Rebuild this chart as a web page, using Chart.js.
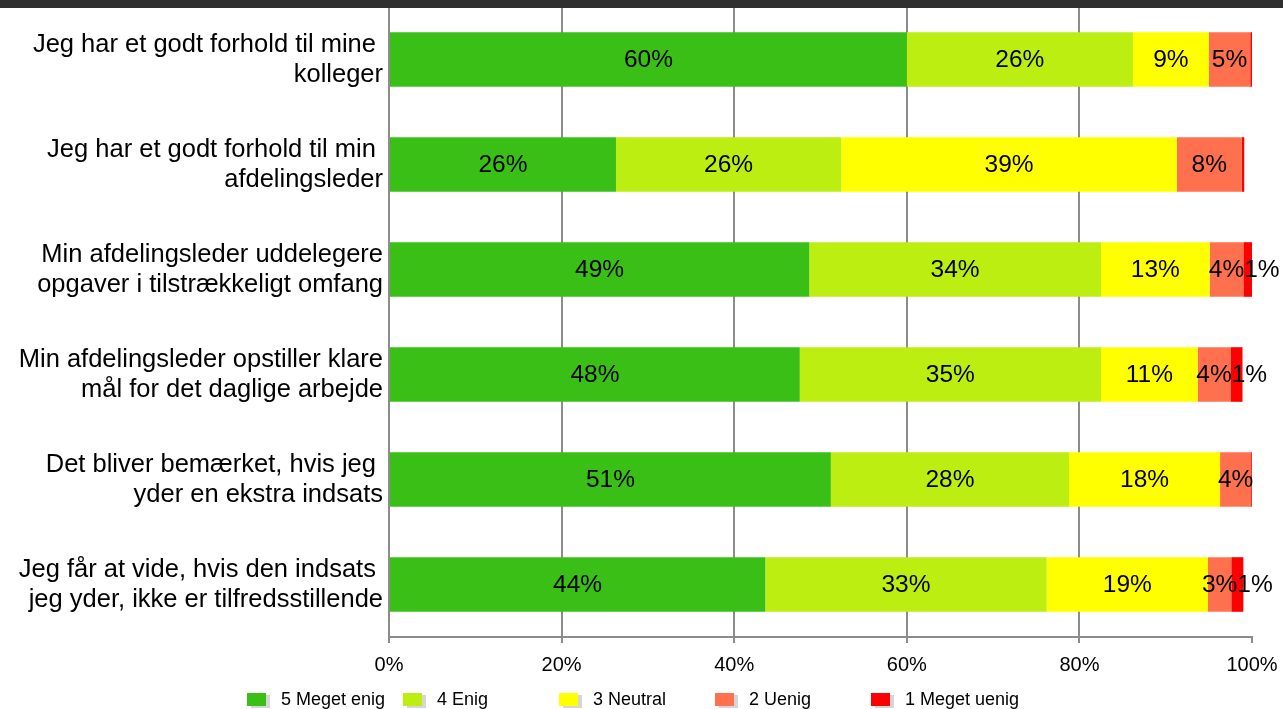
<!DOCTYPE html>
<html>
<head>
<meta charset="utf-8">
<script src="https://cdn.jsdelivr.net/npm/chart.js@4/dist/chart.umd.min.js"></script>
<style>
  html, body { margin: 0; padding: 0; background: #fff; }
  #wrap { position: relative; width: 1283px; height: 709px; }
</style>
</head>
<body>
<div id="wrap"><canvas id="surveyChart" width="1283" height="709"></canvas></div>
<script>
// spørgsmål (two lines each, trailing space kept like the original)
const questions = [
  ['Jeg har et godt forhold til mine ', 'kolleger'],
  ['Jeg har et godt forhold til min ', 'afdelingsleder'],
  ['Min afdelingsleder uddelegere', 'opgaver i tilstrækkeligt omfang'],
  ['Min afdelingsleder opstiller klare', 'mål for det daglige arbejde'],
  ['Det bliver bemærket, hvis jeg ', 'yder en ekstra indsats'],
  ['Jeg får at vide, hvis den indsats ', 'jeg yder, ikke er tilfredsstillende']
];

const seriesNames = ['5 Meget enig', '4 Enig', '3 Neutral', '2 Uenig', '1 Meget uenig'];

// andele i procent
const megetEnig  = [60.0, 26.3, 48.7, 47.6, 51.2, 43.6];
const enig       = [26.2, 26.1, 33.8, 34.9, 27.6, 32.6];
const neutral    = [8.8, 38.9, 12.6, 11.2, 17.5, 18.7];
const uenig      = [4.8, 7.5, 3.9, 3.8, 3.6, 2.7];
const megetUenig = [0.2, 0.3, 1.0, 1.4, 0.2, 1.4];

const xTicks = [0, 20, 40, 60, 80, 100];

const seriesColors = ['#3abf17', '#bdee12', '#ffff00', '#ff704e', '#ff0000'];

const FONT = '"Liberation Sans", Arial, Helvetica, sans-serif';
const GRID = '#8c8c8c';

const seriesData = [megetEnig, enig, neutral, uenig, megetUenig];

// percentages in the middle of each segment, pushed right when they would collide
const valueLabels = {
  id: 'valueLabels',
  afterDatasetsDraw(chart) {
    const ctx = chart.ctx;
    ctx.save();
    ctx.font = '24.5px ' + FONT;
    ctx.fillStyle = '#000';
    ctx.textAlign = 'left';
    ctx.textBaseline = 'middle';
    const lastRight = {};
    chart.data.datasets.forEach((ds, di) => {
      const meta = chart.getDatasetMeta(di);
      meta.data.forEach((bar, i) => {
        const v = ds.data[i];
        if (Math.round(v) < 1) return;
        const txt = Math.round(v) + '%';
        const w = ctx.measureText(txt).width;
        const p = bar.getProps(['x', 'base', 'y'], true);
        let left = (p.x + p.base) / 2 - w / 2;
        if (lastRight[i] !== undefined && left < lastRight[i]) left = lastRight[i];
        ctx.fillText(txt, left, p.y + 1);
        lastRight[i] = left + w;
      });
    });
    ctx.restore();
  }
};

// legend in fixed columns + the dark strip at the top
const legendX = [247, 403, 559, 715, 871];
const frame = {
  id: 'frame',
  afterDraw(chart) {
    const ctx = chart.ctx;
    ctx.save();
    ctx.fillStyle = '#2f2f2f';
    ctx.fillRect(0, 0, chart.width, 8);

    ctx.font = '18px ' + FONT;
    ctx.textBaseline = 'middle';
    ctx.textAlign = 'left';
    chart.data.datasets.forEach((ds, i) => {
      const x0 = legendX[i];
      ctx.fillStyle = '#d6d6d6';
      ctx.fillRect(x0 + 4, 695, 19, 13);
      ctx.fillStyle = ds.backgroundColor;
      ctx.fillRect(x0, 693, 19, 13);
      ctx.fillStyle = '#000';
      ctx.fillText(ds.label, x0 + 34, 700);
    });
    ctx.restore();
  }
};

const ctx = document.getElementById('surveyChart').getContext('2d');
new Chart(ctx, {
  type: 'bar',
  data: {
    labels: questions,
    datasets: seriesNames.map((name, i) => ({
      label: name,
      data: seriesData[i],
      backgroundColor: seriesColors[i],
      borderWidth: 0,
      categoryPercentage: 0.52,
      barPercentage: 1.0
    }))
  },
  options: {
    indexAxis: 'y',
    responsive: false,
    animation: false,
    layout: { padding: { top: 7, right: 31, left: 0, bottom: 0 } },
    scales: {
      x: {
        stacked: true,
        min: 0,
        max: 100,
        afterBuildTicks: (scale) => { scale.ticks = xTicks.map(v => ({ value: v })); },
        afterFit: (scale) => {
          scale.height = 72;
          scale.paddingLeft = 0;
          scale.paddingRight = 0;
        },
        grid: {
          color: (c) => (c.tick && c.tick.value === 100 ? 'rgba(0,0,0,0)' : GRID),
          tickColor: GRID,
          lineWidth: 2,
          tickLength: 6
        },
        border: { display: true, color: GRID, width: 2 },
        ticks: {
          padding: 10,
          color: '#000',
          font: { family: FONT, size: 20 },
          callback: (v) => v + '%',
          autoSkip: false,
          maxRotation: 0
        }
      },
      y: {
        stacked: true,
        afterFit: (scale) => {
          scale.width = 389;
          scale.paddingTop = 0;
          scale.paddingBottom = 0;
        },
        grid: { display: false, drawTicks: false, tickLength: 0 },
        border: { display: false },
        ticks: {
          padding: 6,
          autoSkip: false,
          color: '#000',
          font: { family: FONT, size: 25.5, lineHeight: '30px' }
        }
      }
    },
    plugins: {
      legend: { display: false },
      tooltip: { enabled: false }
    }
  },
  plugins: [valueLabels, frame]
});
</script>
</body>
</html>
